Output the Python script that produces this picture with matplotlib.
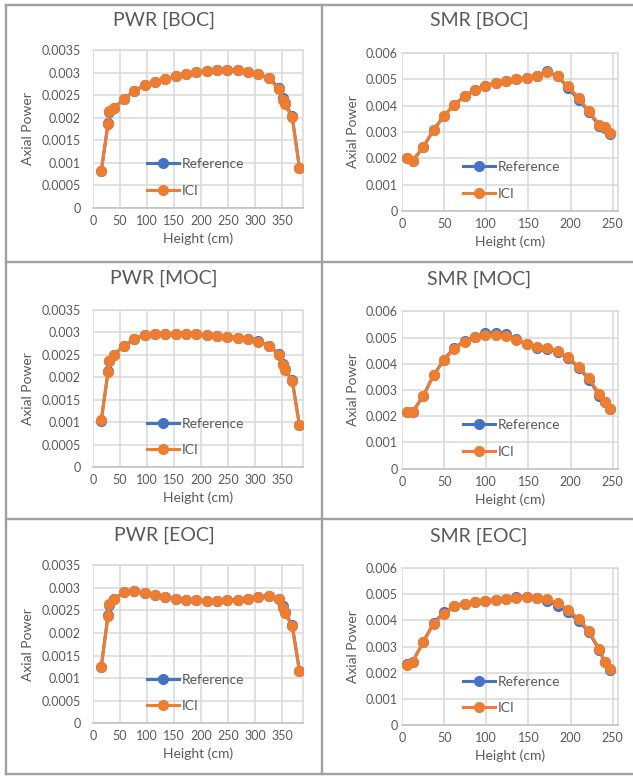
import matplotlib
matplotlib.use("Agg")
import matplotlib.pyplot as plt
from matplotlib.lines import Line2D
from matplotlib.ticker import FuncFormatter

plt.rcParams['font.family'] = ['Lato', 'DejaVu Sans']

pwr_height = [15.2, 27.8, 29.8, 38.6, 57.4, 76.5, 95.6, 114.7, 133.8, 152.9, 172.0, 191.1,
              210.2, 229.3, 248.4, 267.5, 286.6, 305.7, 324.8, 343.9, 350.5, 354.0, 368.0, 381.5]
smr_height = [5.9, 12.7, 25.3, 37.6, 49.8, 62.1, 74.4, 86.6, 98.9, 111.2, 123.4, 135.7,
              147.9, 160.2, 172.5, 184.7, 197.0, 209.7, 222.0, 234.2, 240.5, 246.5]

pwr_boc_ref = [0.00081, 0.00188, 0.00213, 0.00222, 0.00241, 0.00260, 0.00272, 0.00280, 0.00286, 0.00292, 0.00297, 0.00301,
               0.00303, 0.00306, 0.00306, 0.00306, 0.00302, 0.00297, 0.00288, 0.00266, 0.00243, 0.00233, 0.00204, 0.00088]
pwr_boc_ici = [0.00081, 0.00186, 0.00215, 0.00221, 0.00241, 0.00260, 0.00272, 0.00280, 0.00286, 0.00292, 0.00297, 0.00301,
               0.00303, 0.00306, 0.00306, 0.00306, 0.00302, 0.00296, 0.00287, 0.00263, 0.00239, 0.00230, 0.00201, 0.00088]
pwr_moc_ref = [0.00103, 0.00213, 0.00235, 0.00250, 0.00270, 0.00285, 0.00294, 0.00296, 0.00297, 0.00297, 0.00296, 0.00295,
               0.00294, 0.00292, 0.00290, 0.00288, 0.00285, 0.00280, 0.00270, 0.00252, 0.00230, 0.00219, 0.00194, 0.00093]
pwr_moc_ici = [0.00104, 0.00211, 0.00236, 0.00250, 0.00270, 0.00285, 0.00294, 0.00296, 0.00297, 0.00297, 0.00296, 0.00295,
               0.00294, 0.00292, 0.00290, 0.00288, 0.00285, 0.00279, 0.00269, 0.00250, 0.00227, 0.00217, 0.00192, 0.00093]
pwr_eoc_ref = [0.00125, 0.00240, 0.00263, 0.00275, 0.00290, 0.00293, 0.00288, 0.00284, 0.00279, 0.00276, 0.00274, 0.00273,
               0.00272, 0.00272, 0.00273, 0.00274, 0.00276, 0.00280, 0.00283, 0.00276, 0.00259, 0.00247, 0.00218, 0.00116]
pwr_eoc_ici = [0.00125, 0.00238, 0.00264, 0.00275, 0.00290, 0.00293, 0.00288, 0.00284, 0.00279, 0.00276, 0.00274, 0.00273,
               0.00272, 0.00272, 0.00273, 0.00274, 0.00276, 0.00280, 0.00283, 0.00275, 0.00256, 0.00244, 0.00216, 0.00115]

smr_boc_ref = [0.00203, 0.00191, 0.00243, 0.00309, 0.00361, 0.00404, 0.00436, 0.00461, 0.00476, 0.00487, 0.00495, 0.00501,
               0.00506, 0.00514, 0.00532, 0.00511, 0.00468, 0.00422, 0.00376, 0.00321, 0.00316, 0.00294]
smr_boc_ici = [0.00203, 0.00191, 0.00243, 0.00309, 0.00361, 0.00404, 0.00435, 0.00461, 0.00476, 0.00487, 0.00495, 0.00501,
               0.00506, 0.00514, 0.00528, 0.00511, 0.00473, 0.00429, 0.00378, 0.00328, 0.00318, 0.00296]
smr_moc_ref = [0.00217, 0.00216, 0.00278, 0.00357, 0.00416, 0.00462, 0.00486, 0.00503, 0.00516, 0.00518, 0.00512, 0.00494,
               0.00475, 0.00460, 0.00455, 0.00446, 0.00422, 0.00385, 0.00340, 0.00278, 0.00254, 0.00226]
smr_moc_ici = [0.00216, 0.00216, 0.00278, 0.00357, 0.00414, 0.00458, 0.00484, 0.00501, 0.00510, 0.00510, 0.00505, 0.00492,
               0.00475, 0.00465, 0.00461, 0.00448, 0.00425, 0.00389, 0.00344, 0.00284, 0.00256, 0.00227]
smr_eoc_ref = [0.00232, 0.00242, 0.00318, 0.00390, 0.00430, 0.00454, 0.00463, 0.00470, 0.00475, 0.00477, 0.00482, 0.00487,
               0.00489, 0.00486, 0.00475, 0.00455, 0.00430, 0.00398, 0.00354, 0.00285, 0.00240, 0.00212]
smr_eoc_ici = [0.00230, 0.00242, 0.00318, 0.00387, 0.00425, 0.00454, 0.00463, 0.00470, 0.00475, 0.00477, 0.00482, 0.00486,
               0.00489, 0.00486, 0.00480, 0.00464, 0.00439, 0.00406, 0.00358, 0.00290, 0.00242, 0.00213]

W, H = 633, 776
GREY = "#595959"
GRID = "#d9d9d9"


def fmt(v, pos):
    s = "%.4f" % v
    s = s.rstrip("0").rstrip(".")
    return s


def draw_panel(fig, rect, title, title_xy, x, ref, ici, xmax, xstep, ymax, ystep, ypad, leg_x):
    left, top, width, bottom = rect
    ax = fig.add_axes([left / W, 1 - bottom / H, width / W, (bottom - top) / H])
    ax.plot(x, ref, color="#4472C4", lw=2.2, marker="o", ms=7, label="Reference", zorder=3)
    ax.plot(x, ici, color="#ED7D31", lw=2.2, marker="o", ms=7, label="ICI", zorder=4)
    ax.set_xlim(0, xmax)
    ax.set_ylim(0, ymax)
    n = int(round(xmax // xstep))
    ax.set_xticks([i * xstep for i in range(n + 1)])
    m = int(round(ymax / ystep))
    ax.set_yticks([i * ystep for i in range(m + 1)])
    ax.yaxis.set_major_formatter(FuncFormatter(fmt))
    ax.grid(True, color=GRID, lw=1.1)
    ax.set_axisbelow(True)
    for s in ax.spines.values():
        s.set_color(GRID)
        s.set_linewidth(1.1)
    ax.spines["left"].set_visible(False)
    ax.spines["bottom"].set_color("#bfbfbf")
    ax.tick_params(axis="x", length=0, pad=5, labelsize=9, labelcolor=GREY)
    ax.tick_params(axis="y", length=0, pad=ypad, labelsize=9, labelcolor=GREY)
    ax.set_xlabel("Height (cm)", fontsize=10, color=GREY, labelpad=4)
    ax.set_ylabel("Axial Power", fontsize=10, color=GREY, labelpad=5)
    ax.legend(loc="center left", bbox_to_anchor=(leg_x, 0.193), frameon=False, fontsize=10,
              handlelength=2.3, handletextpad=0.2, labelspacing=1.05, borderpad=0,
              borderaxespad=0, labelcolor=GREY)
    fig.text(title_xy[0] / W, 1 - title_xy[1] / H, title, fontsize=14, color=GREY,
             ha="center", va="center")
    return ax


def main():
    fig = plt.figure(figsize=(W / 100, H / 100), dpi=100)

    # chart borders
    border = dict(color="#a0a0a0", lw=1.7)
    for yy in [5, 262, 519, 774]:
        fig.add_artist(Line2D([6 / W, 1], [1 - yy / H, 1 - yy / H], **border))
    for xx in [6, 322]:
        fig.add_artist(Line2D([xx / W, xx / W], [1 - 5 / H, 1 - 774 / H], **border))

    pwr = [("PWR [BOC]", pwr_boc_ref, pwr_boc_ici, 50, 208, 20),
           ("PWR [MOC]", pwr_moc_ref, pwr_moc_ici, 309.7, 467.3, 278),
           ("PWR [EOC]", pwr_eoc_ref, pwr_eoc_ici, 565.3, 723.3, 535)]
    smr = [("SMR [BOC]", smr_boc_ref, smr_boc_ici, 53, 211, 20),
           ("SMR [MOC]", smr_moc_ref, smr_moc_ici, 311.3, 468.7, 279),
           ("SMR [EOC]", smr_eoc_ref, smr_eoc_ici, 567.7, 725.3, 536)]

    for title, ref, ici, top, bottom, ty in pwr:
        draw_panel(fig, (93, top, 210, bottom), title, (164, ty), pwr_height, ref, ici,
                   388, 50, 0.0035, 0.0005, 9, 0.257)
    for title, ref, ici, top, bottom, ty in smr:
        draw_panel(fig, (402, top, 215.7, bottom), title, (479, ty), smr_height, ref, ici,
                   256, 50, 0.006, 0.001, 3, 0.284)

    fig.savefig("out.png", dpi=100)


if __name__ == "__main__":
    main()
